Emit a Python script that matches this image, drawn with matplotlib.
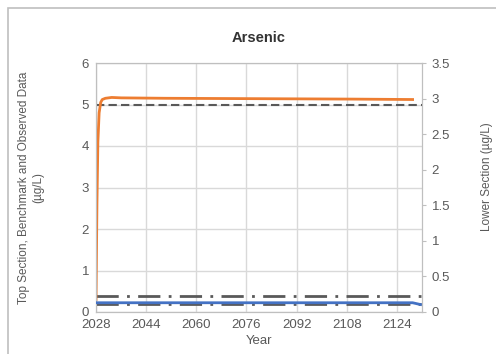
import matplotlib.pyplot as plt
from matplotlib.patches import Rectangle

plt.rcParams['font.family'] = ['Liberation Sans', 'DejaVu Sans']

# top section (left axis)
top_years = [2028, 2028.3, 2028.6, 2029, 2029.5, 2030, 2031, 2033, 2036, 2050, 2080, 2110, 2129]
top_vals = [0.3, 2.6, 4.1, 4.8, 5.05, 5.12, 5.15, 5.17, 5.16, 5.15, 5.14, 5.13, 5.12]

# lower section (right axis)
low_years = [2028, 2129, 2131.5]
low_vals = [0.13, 0.13, 0.105]

benchmark = 5.0
obs_hi = 0.39
obs_lo = 0.19

xticks = [2028, 2044, 2060, 2076, 2092, 2108, 2124]

fig = plt.figure(figsize=(4.96, 3.54), dpi=100)
fig.patches.append(Rectangle((8 / 496, -0.1), 1.2, 1 - 8 / 354 + 0.1,
                             transform=fig.transFigure, fill=False,
                             edgecolor='#bfbfbf', linewidth=1.2))

ax = fig.add_axes([96 / 496, 1 - 312 / 354, 326 / 496, 249 / 354])
ax2 = ax.twinx()

tc = '#595959'
ax.axhline(benchmark, color='#595959', linestyle=(0, (4, 2)), linewidth=1.5, zorder=3)
ax.axhline(obs_hi, color='#595959', linestyle=(0, (8, 3, 1, 3)), linewidth=2, zorder=3)
ax.axhline(obs_lo, color='#595959', linestyle=(0, (8, 3, 1, 3)), linewidth=2, zorder=3)
ax.plot(top_years, top_vals, color='#ED7D31', linewidth=2, zorder=4)
ax2.plot(low_years, low_vals, color='#4472C4', linewidth=2, zorder=4)

ax.set_xlim(2028, 2132)
ax.set_ylim(0, 6)
ax2.set_ylim(0, 3.5)
ax.set_xticks(xticks)
ax.set_yticks(range(0, 7))
ax2.set_yticks([0, 0.5, 1, 1.5, 2, 2.5, 3, 3.5])
ax2.set_yticklabels(['0', '0.5', '1', '1.5', '2', '2.5', '3', '3.5'])
ax.grid(True, color='#d9d9d9', linewidth=1)
ax.set_axisbelow(True)

for a in (ax, ax2):
    for s in a.spines.values():
        s.set_color('#bfbfbf')
    a.tick_params(labelsize=9.5, colors=tc)
ax.tick_params(axis='both', length=0, pad=5)
ax2.tick_params(axis='y', length=3, color='#bfbfbf', pad=4)

ax.set_title('Arsenic', fontsize=10.5, fontweight='bold', color='#333333', pad=15)
ax.set_xlabel('Year', fontsize=9.5, color=tc, labelpad=3)
fig.text(31 / 496, 0.47, 'Top Section, Benchmark and Observed Data\n(µg/L)',
         rotation=90, ha='center', va='center', fontsize=8.5, color=tc,
         multialignment='center')
fig.text(487 / 496, 0.5, 'Lower Section (µg/L)', rotation=90, ha='center',
         va='center', fontsize=8.5, color=tc)

fig.savefig('out.png', dpi=100)
